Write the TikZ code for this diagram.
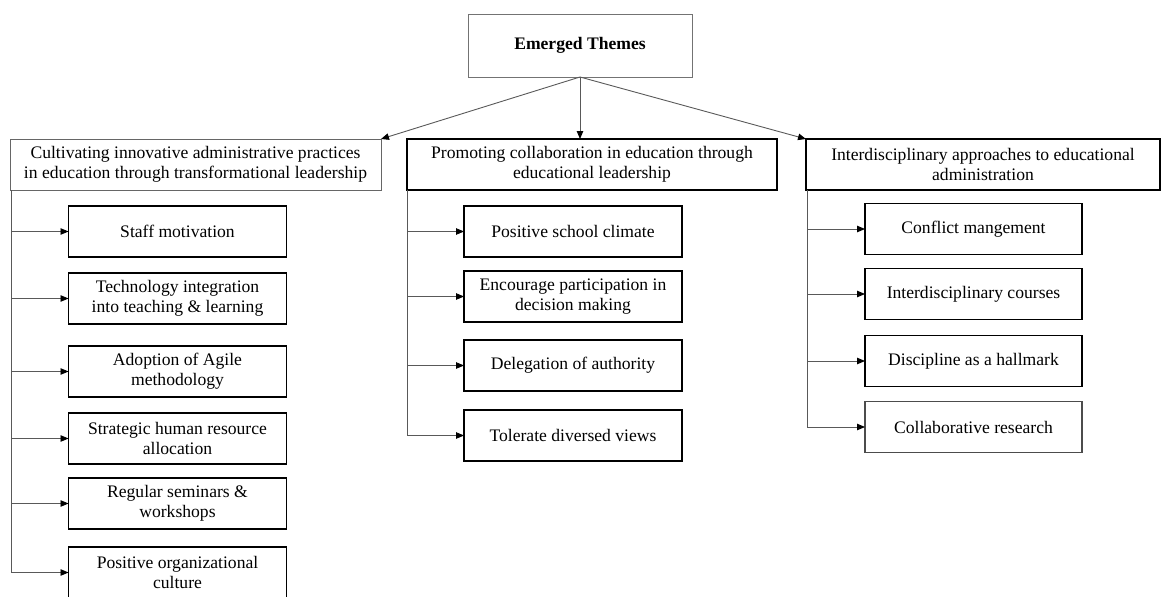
\documentclass[tikz,border=0pt]{standalone}
\usepackage{fontspec}
\setmainfont{Liberation Serif}
\usetikzlibrary{arrows.meta,positioning}

\begin{document}
\begin{tikzpicture}[x=1pt,y=-1pt,>={Triangle[length=8pt,width=6.5pt,fill=black,color=black]},
 b/.style={draw,line width=1.2pt,inner sep=2pt,outer sep=0pt,minimum height=51pt,align=center},
 s/.style={b,minimum width=218pt},
 l/.style={draw=black!65,line width=0.9pt},
 every node/.append style={font=\fontsize{17.6}{20}\selectfont}]
\useasboundingbox (0,0) rectangle (1163,597);
\node[b,draw=black!55,line width=0.7pt,minimum width=224pt,minimum height=63pt] (t) at (580,45.5) {\textbf{Emerged Themes}};
\node[b,draw=black!60,line width=0.8pt,minimum width=371pt] (c1) at (195.5,164.5) {Cultivating innovative administrative practices\\in education through transformational leadership};
\node[b,minimum width=370pt] (c2) at (592,164.5) {Promoting collaboration in education through\\educational leadership};
\node[b,minimum width=354pt] (c3) at (983,164.5) {Interdisciplinary approaches to educational\\administration};
\draw[l,->] (t.south) -- (c1.north east);
\draw[l,->] (t.south) -- (t.south |- c2.north);
\draw[l,->] (t.south) -- (c3.north west);
% first theme
\node[s] (a1) at (177.5,231.5) {Staff motivation};
\node[s,below=16pt of a1] (a2) {Technology integration\\into teaching \& learning};
\node[s,below=22pt of a2] (a3) {Adoption of Agile\\methodology};
\node[s,below=16pt of a3] (a4) {Strategic human resource\\allocation};
\node[s,below=14pt of a4] (a5) {Regular seminars \&\\workshops};
\node[s,below=18pt of a5] (a6) {Positive organizational\\culture};
\coordinate (v1) at ([xshift=1.5pt]c1.south west);
\draw[l] (v1) -- (v1 |- a6.west);
\draw[l,->] (v1 |- a1.west) -- (a1.west); \draw[l,->] (v1 |- a2.west) -- (a2.west); \draw[l,->] (v1 |- a3.west) -- (a3.west);
\draw[l,->] (v1 |- a4.west) -- (a4.west); \draw[l,->] (v1 |- a5.west) -- (a5.west); \draw[l,->] (v1 |- a6.west) -- (a6.west);
% second theme
\node[s] (b1) at (573,231.5) {Positive school climate};
\node[s,below=14pt of b1] (b2) {Encourage participation in\\decision making};
\node[s,below=18pt of b2] (b3) {Delegation of authority};
\node[s,below=19pt of b3] (b4) {Tolerate diversed views};
\coordinate (v2) at (c2.south west);
\draw[l] (v2) -- (v2 |- b4.west);
\draw[l,->] (v2 |- b1.west) -- (b1.west); \draw[l,->] (v2 |- b2.west) -- (b2.west);
\draw[l,->] (v2 |- b3.west) -- (b3.west); \draw[l,->] (v2 |- b4.west) -- (b4.west);
% third theme
\node[s,minimum width=217pt] (d1) at (973.5,229) {Conflict mangement};
\node[s,minimum width=217pt,below=14pt of d1] (d2) {Interdisciplinary courses};
\node[s,minimum width=217pt,below=16pt of d2] (d3) {Discipline as a hallmark};
\node[s,minimum width=217pt,draw=black!70,below=15pt of d3] (d4) {Collaborative research};
\coordinate (v3) at ([xshift=1pt]c3.south west);
\draw[l] (v3) -- (v3 |- d4.west);
\draw[l,->] (v3 |- d1.west) -- (d1.west); \draw[l,->] (v3 |- d2.west) -- (d2.west);
\draw[l,->] (v3 |- d3.west) -- (d3.west); \draw[l,->] (v3 |- d4.west) -- (d4.west);
\end{tikzpicture}
\end{document}
